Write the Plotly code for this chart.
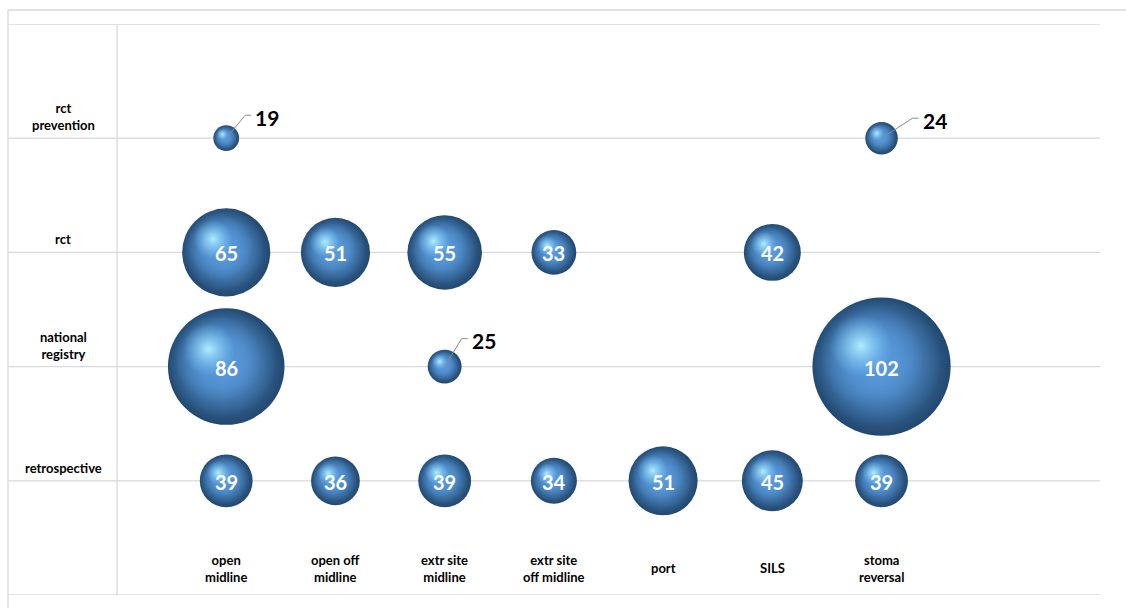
import plotly.graph_objects as go

# ---- data ----
x_labels = ["open<br>midline", "open off<br>midline", "extr site<br>midline",
            "extr site<br>off midline", "port", "SILS", "stoma<br>reversal"]
y_labels = ["retrospective", "national<br>registry", "rct", "rct<br>prevention"]

retrospective = [39, 36, 39, 34, 51, 45, 39]
national_registry = [86, None, 25, None, None, None, 102]
rct = [65, 51, 55, 33, None, 42, None]
rct_prevention = [19, None, None, None, None, None, 24]
series = [retrospective, national_registry, rct, rct_prevention]

# ---- layout geometry ----
W, H = 1126, 608
ML, MR, MT, MB = 117, 26, 24, 13
XMAX, YMAX = 9, 5
PW, PH = W - ML - MR, H - MT - MB
PX_X, PX_Y = PW / XMAX, PH / YMAX
SCALE = 1.355  # px diameter per unit value

xs, ys, vs = [], [], []
for j, row in enumerate(series):
    for i, v in enumerate(row):
        if v is not None:
            xs.append(i + 1)
            ys.append(j + 1)
            vs.append(v)

diam = [v * SCALE for v in vs]

fig = go.Figure()


def layer(scale, off, center, edge):
    fig.add_trace(go.Scatter(
        x=[x - off * d / PX_X for x, d in zip(xs, diam)],
        y=[y + off * d / PX_Y for y, d in zip(ys, diam)],
        mode="markers", hoverinfo="skip",
        marker=dict(size=[scale * d for d in diam], sizemode="diameter", opacity=1,
                    color=edge,  # radial gradient: marker.color = rim
                    gradient=dict(type="radial", color=center),
                    line=dict(width=0)),
    ))


# base sphere with dark rim
layer(1.0, 0.0, "#5595d6", "#22486f")
# lit body shifted up-left
layer(0.95, 0.04, "rgba(84,148,214,1)", "rgba(84,148,214,0)")
layer(0.75, 0.07, "rgba(88,154,220,1)", "rgba(88,154,220,0)")
# specular highlight
layer(0.45, 0.15, "rgba(180,242,255,0.95)", "rgba(125,200,248,0)")

shapes = []
annotations = []

# inside labels
for x, y, v in zip(xs, ys, vs):
    if v >= 30:
        annotations.append(dict(x=x, y=y, xref="x", yref="y", text=str(v),
                                showarrow=False, xanchor="center", yanchor="middle",
                                yshift=-1,
                                font=dict(family="Lato", size=20, color="white",
                                          weight="bold")))

# outside labels with leader lines for small bubbles
leader = {19: (19, 23), 24: (31, 20), 25: (17, 28)}
for x, y, v in zip(xs, ys, vs):
    if v < 30:
        dx, dy = leader.get(v, (20, 24))
        shapes.append(dict(type="line", xref="x", yref="y", xsizemode="pixel",
                           ysizemode="pixel", xanchor=x, yanchor=y,
                           x0=0, y0=0, x1=dx, y1=dy,
                           line=dict(color="#8c8c8c", width=1)))
        shapes.append(dict(type="line", xref="x", yref="y", xsizemode="pixel",
                           ysizemode="pixel", xanchor=x, yanchor=y,
                           x0=dx, y0=dy, x1=dx + 6, y1=dy,
                           line=dict(color="#8c8c8c", width=1)))
        annotations.append(dict(x=x, y=y, xref="x", yref="y", text=str(v),
                                showarrow=False, xanchor="left", yanchor="middle",
                                xshift=dx + 8, yshift=dy - 2,
                                font=dict(family="Lato", size=21, color="black",
                                          weight="bold")))

grid = "#d9d9d9"
left_paper = -(ML - 8) / PW
# horizontal grid lines (extend into label column)
for k in range(0, YMAX + 1):
    shapes.append(dict(type="line", xref="paper", yref="y", x0=left_paper, x1=1,
                       y0=k, y1=k, line=dict(color=grid, width=1.3), layer="below"))
# y axis line
shapes.append(dict(type="line", xref="paper", yref="paper", x0=0, x1=0, y0=0, y1=1,
                   line=dict(color=grid, width=1.3), layer="below"))
# outer border: left and top
shapes.append(dict(type="line", xref="paper", yref="paper", x0=left_paper, x1=left_paper,
                   y0=-MB / PH, y1=1 + (MT - 10) / PH,
                   line=dict(color=grid, width=1.3), layer="below"))
shapes.append(dict(type="line", xref="paper", yref="paper", x0=left_paper, x1=(W - ML) / PW,
                   y0=1 + (MT - 10) / PH, y1=1 + (MT - 10) / PH,
                   line=dict(color=grid, width=1.3), layer="below"))

lab_font = dict(family="Lato", size=13, color="black", weight="bold")
for j, lab in enumerate(y_labels):
    annotations.append(dict(x=(63 - ML) / PW, y=j + 1, xref="paper", yref="y",
                            text=lab, showarrow=False, xanchor="center",
                            yanchor="bottom", yshift=3, font=lab_font))
for i, lab in enumerate(x_labels):
    annotations.append(dict(x=i + 1, y=(595 - 568) / PX_Y, xref="x", yref="y",
                            text=lab, showarrow=False, xanchor="center",
                            yanchor="middle", font=lab_font))

fig.update_layout(
    width=W, height=H,
    margin=dict(l=ML, r=MR, t=MT, b=MB),
    paper_bgcolor="white", plot_bgcolor="white",
    showlegend=False,
    xaxis=dict(range=[0, XMAX], showgrid=False, zeroline=False,
               showticklabels=False, fixedrange=True),
    yaxis=dict(range=[0, YMAX], showgrid=False, zeroline=False,
               showticklabels=False, fixedrange=True),
    shapes=shapes, annotations=annotations,
)

fig.write_html("out.html")
